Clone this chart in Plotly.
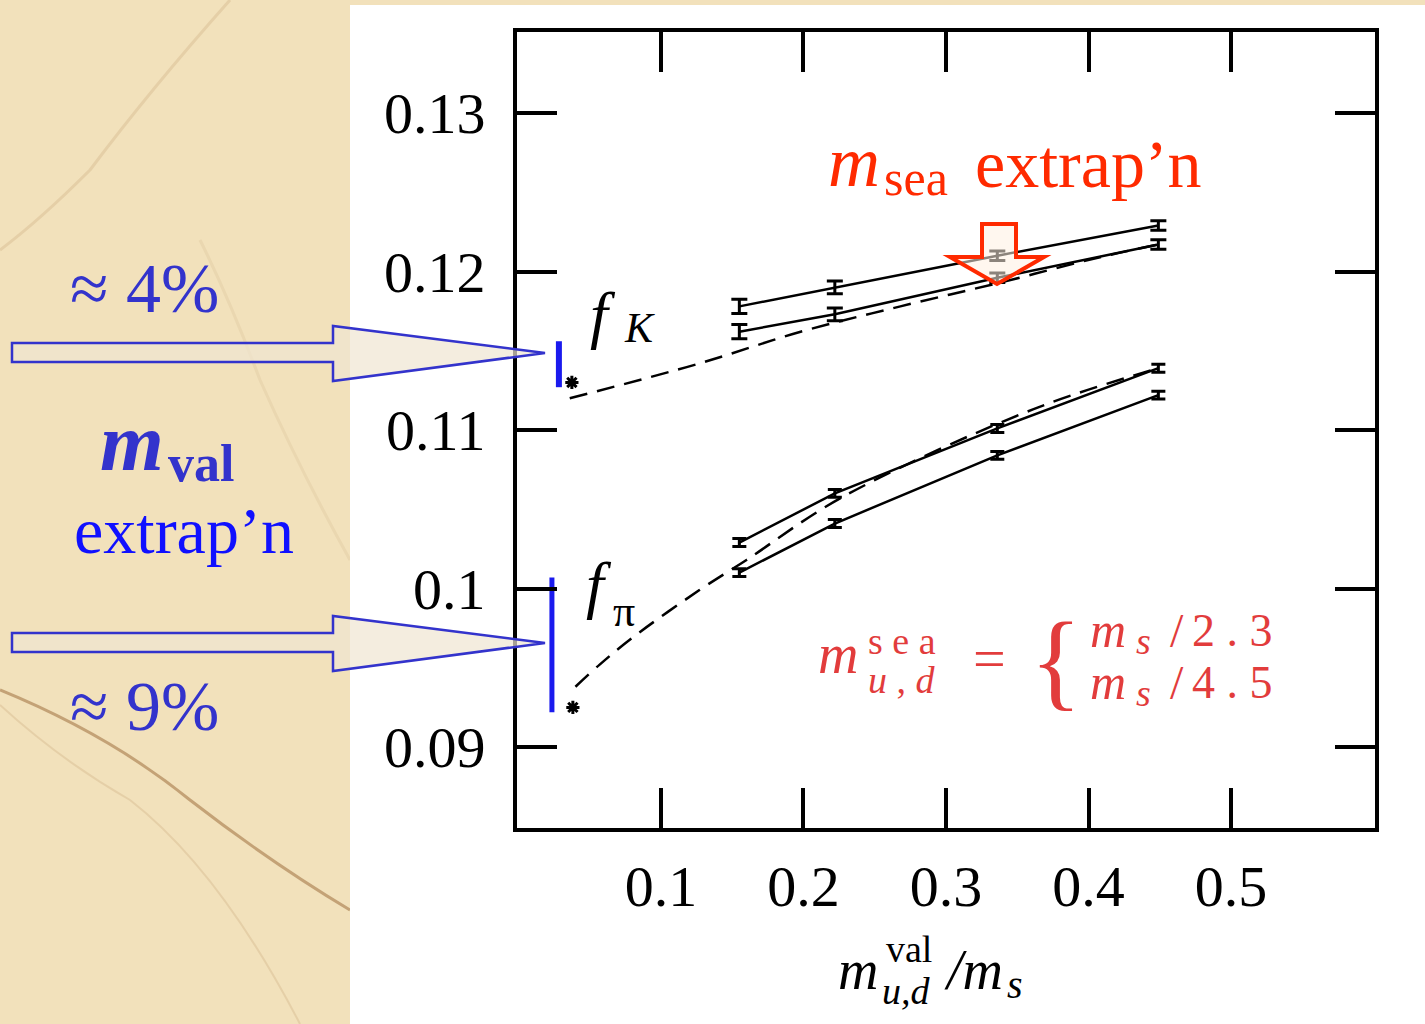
import plotly.graph_objects as go

# ---- data -------------------------------------------------------------
m_val = [0.155, 0.222, 0.336, 0.449]

fK_sea_heavy = [0.1178, 0.1190, 0.1210, 0.1229]
fK_sea_light = [0.1162, 0.1173, 0.1196, 0.1217]
fK_err_heavy = [0.00045, 0.0004, 0.0003, 0.0003]
fK_err_light = [0.00045, 0.0004, 0.0003, 0.0003]

fpi_sea_heavy = [0.1029, 0.1060, 0.1101, 0.1139]
fpi_sea_light = [0.1010, 0.1041, 0.1084, 0.1122]
fpi_err_heavy = [0.00025, 0.00025, 0.00025, 0.00025]
fpi_err_light = [0.00025, 0.00025, 0.00025, 0.00025]

# chiral fit curves
fK_fit_x = [0.036, 0.127, 0.198, 0.268, 0.338, 0.408, 0.449]
fK_fit_y = [0.1120, 0.1142, 0.1162, 0.1178, 0.1193, 0.1209, 0.1217]
fpi_fit_x = [0.040, 0.057, 0.080, 0.127, 0.160, 0.226, 0.361, 0.449]
fpi_fit_y = [0.0938, 0.0952, 0.0969, 0.0999, 0.1018, 0.1057, 0.1113, 0.1139]

# extrapolated physical points
phys_x = [0.0375, 0.0382]
phys_y = [0.1130, 0.0925]

# valence extrapolation spread bands
fK_band_x = 0.0284
fK_band = [0.1127, 0.1156]
fpi_band_x = 0.0235
fpi_band = [0.0922, 0.1007]

x_ticks = [0.1, 0.2, 0.3, 0.4, 0.5]
y_ticks = [0.09, 0.10, 0.11, 0.12, 0.13]
y_tick_text = ["0.09", "0.1", "0.11", "0.12", "0.13"]

sea_ratios = ["2 . 3", "4 . 5"]

# ---- page geometry (pixels) --------------------------------------------
FW, FH = 1425, 1024
L, R, T, B = 517, 1375, 32, 828


def px(x):
    return (x - L) / (R - L)


def py(y):
    return (B - y) / (B - T)


def path(points):
    return "M " + " L ".join(f"{px(x):.5f},{py(y):.5f}" for x, y in points) + " Z"


def curve(points):
    s = f"M {px(points[0][0]):.5f},{py(points[0][1]):.5f}"
    for i in range(1, len(points) - 1, 2):
        (cx, cy), (ex, ey) = points[i], points[i + 1]
        s += f" Q {px(cx):.5f},{py(cy):.5f} {px(ex):.5f},{py(ey):.5f}"
    return s


SERIF = "Liberation Serif, Times New Roman, serif"
BLUE = "#3333cc"
RED = "#ff2a00"
PINK = "#e23c3c"

fig = go.Figure()

line_style = dict(color="black", width=2.5)


def series(x, y, err, width):
    fig.add_trace(go.Scatter(
        x=x, y=y, mode="lines", line=line_style,
        error_y=dict(type="data", array=err, visible=True, color="black",
                     thickness=3, width=width),
        showlegend=False, hoverinfo="skip"))


series(m_val, fK_sea_heavy, fK_err_heavy, 8)
series(m_val, fK_sea_light, fK_err_light, 8)
series(m_val, fpi_sea_heavy, fpi_err_heavy, 7)
series(m_val, fpi_sea_light, fpi_err_light, 7)

for fx, fy in [(fK_fit_x, fK_fit_y), (fpi_fit_x, fpi_fit_y)]:
    fig.add_trace(go.Scatter(
        x=fx, y=fy, mode="lines", line=dict(color="black", width=2.5, dash="18px,10px"),
        line_shape="spline", showlegend=False, hoverinfo="skip"))

fig.add_trace(go.Scatter(
    x=phys_x, y=phys_y, mode="markers",
    marker=dict(symbol="asterisk-open", size=11, color="black",
                line=dict(color="black", width=3)),
    showlegend=False, hoverinfo="skip"))

for bx, band, w in [(fK_band_x, fK_band, 6), (fpi_band_x, fpi_band, 5)]:
    fig.add_trace(go.Scatter(
        x=[bx, bx], y=band, mode="lines", line=dict(color="#1a1aee", width=w),
        showlegend=False, hoverinfo="skip"))

# ---- background: parchment with a white slide panel ---------------------
shapes = []
vein = "rgba(150,100,50,0.5)"
faint = "rgba(170,130,80,0.18)"
shapes.append(dict(type="path", xref="paper", yref="paper", layer="below",
                   path=curve([(0, 690), (110, 735), (190, 800), (270, 862), (350, 910)]),
                   line=dict(color=vein, width=3)))
shapes.append(dict(type="path", xref="paper", yref="paper", layer="below",
                   path=curve([(0, 705), (60, 760), (130, 800), (220, 870), (300, 1024)]),
                   line=dict(color=faint, width=2)))
shapes.append(dict(type="path", xref="paper", yref="paper", layer="below",
                   path=curve([(230, 0), (150, 90), (90, 170), (40, 220), (0, 250)]),
                   line=dict(color=faint, width=3)))
shapes.append(dict(type="path", xref="paper", yref="paper", layer="below",
                   path=curve([(350, 560), (300, 470), (260, 380), (230, 300), (200, 240)]),
                   line=dict(color="rgba(170,130,80,0.1)", width=3)))
shapes.append(dict(type="rect", xref="paper", yref="paper", layer="below",
                   x0=px(350), x1=px(1425), y0=py(5), y1=py(1024),
                   fillcolor="white", line=dict(width=0)))

# hollow blue arrows pointing at the valence extrapolations
for dy in (0, 290):
    pts = [(12, 343 + dy), (333, 343 + dy), (333, 326 + dy), (545, 353 + dy),
           (333, 381 + dy), (333, 362 + dy), (12, 362 + dy)]
    shapes.append(dict(type="path", xref="paper", yref="paper", layer="above",
                       path=path(pts), fillcolor="rgba(240,230,210,0.7)",
                       line=dict(color=BLUE, width=2.5)))

# red hollow arrow for the sea-quark extrapolation
red_pts = [(982, 224), (1016, 224), (1016, 257), (1044, 257), (997, 284),
           (950, 257), (982, 257)]
shapes.append(dict(type="path", xref="paper", yref="paper", layer="above",
                   path=path(red_pts), fillcolor="rgba(255,240,225,0.55)",
                   line=dict(color=RED, width=4)))

# ---- text ---------------------------------------------------------------
ann = []


def txt(x, base, s, size, color="black", anchor="left", family=SERIF):
    ann.append(dict(xref="paper", yref="paper", x=px(x), y=py(base - 0.33 * size),
                    xanchor=anchor, yanchor="middle", showarrow=False, text=s,
                    font=dict(family=family, size=size, color=color)))


# red title
txt(826, 186, "<i>m</i>", 72, RED)
txt(882, 195, "sea", 50, RED)
txt(973, 186, "extrap’n", 68, RED)

# left-hand labels
txt(68, 312, "≈ 4%", 70, BLUE)
txt(68, 730, "≈ 9%", 70, BLUE)
txt(98, 470, "<b><i>m</i></b>", 82, BLUE)
txt(166, 481, "<b>val</b>", 52, BLUE)
txt(72, 552, "extrap’n", 66, "#1010ff")

# curve labels
txt(588, 336, "<i>f</i>", 64)
txt(622, 342, "<i>K</i>", 42)
txt(584, 606, "<i>f</i>", 64)
txt(611, 626, "π", 44)

# sea-mass legend
txt(816, 672, "<i>m</i>", 56, PINK)
txt(866, 654, "s e a", 38, PINK)
txt(866, 693, "<i>u</i> , <i>d</i>", 38, PINK)
txt(989, 678, "=", 58, PINK, anchor="center")
txt(1056, 696, "{", 108, PINK, anchor="center")
for base, ratio in zip([646, 698], sea_ratios):
    txt(1088, base, "<i>m</i>", 50, PINK)
    txt(1134, base + 8, "<i>s</i>", 38, PINK)
    txt(1168, base, "/", 48, PINK)
    txt(1190, base, ratio, 46, PINK)

# axis title
txt(836, 988, "<i>m</i>", 56)
txt(884, 962, "val", 38)
txt(880, 1004, "<i>u,d</i>", 38)
txt(942, 988, "<i>/m</i>", 56)
txt(1005, 998, "<i>s</i>", 40)

axis_common = dict(showline=True, linecolor="black", linewidth=4, mirror="ticks",
                   ticks="inside", ticklen=40, tickwidth=4, tickcolor="black",
                   showgrid=False, zeroline=False,
                   tickfont=dict(family=SERIF, size=58, color="black"))

fig.update_layout(
    width=FW, height=FH, autosize=False,
    margin=dict(l=L, r=FW - R, t=T, b=FH - B, pad=0),
    paper_bgcolor="#f2e1bb", plot_bgcolor="white",
    xaxis=dict(range=[-0.001, 0.601], tickvals=x_ticks, ticktext=[str(v) for v in x_ticks],
               ticklabelstandoff=4, **axis_common),
    yaxis=dict(range=[0.08489, 0.13511], tickvals=y_ticks, ticktext=y_tick_text,
               ticklabelstandoff=16, **axis_common),
    shapes=shapes, annotations=ann,
)

fig.write_html("out.html")
